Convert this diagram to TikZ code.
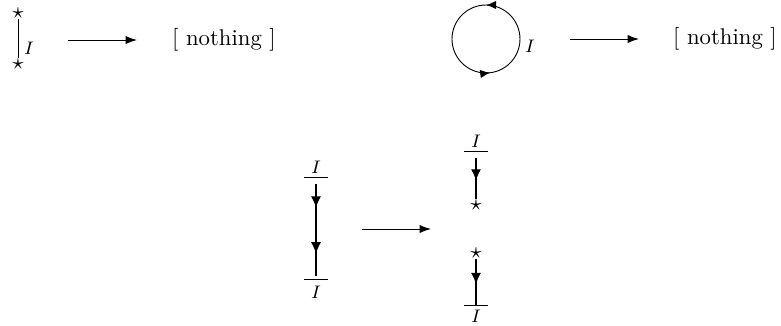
\documentclass[tikz,border=0pt]{standalone}
\usepackage{amsmath}
\usepackage{amssymb}
\usetikzlibrary{
    arrows.meta,
    decorations.markings
}

\tikzset{
    conn/.style={-{Latex[length=5pt,width=3.6pt]}},
    midarrow/.style={postaction={decorate},
        decoration={markings,
            mark=at position #1 with {\arrow{Latex[length=5pt,width=4.4pt]}}}},
    twoarrows/.style 2 args={postaction={decorate},
        decoration={markings,
            mark=at position #1 with {\arrow{Latex[length=5pt,width=4.4pt]}},
            mark=at position #2 with {\arrow{Latex[length=5pt,width=4.4pt]}}}},
    loopmarks/.style 2 args={postaction={decorate},
        decoration={markings,
            mark=at position #1 with {\arrow{Latex[length=4.4pt,width=3.6pt]}},
            mark=at position #2 with {\arrow{Latex[length=4.4pt,width=3.6pt]}}}},
    starnode/.style={inner sep=0pt},
    lab/.style={inner sep=1pt,font=\footnotesize}
}

\begin{document}
\begin{tikzpicture}[x=0.44pt,y=0.44pt]
\useasboundingbox (0,0) rectangle (781,325);

% Open line between two stars
\node[starnode] (ts) at (18,312) {$\star$};
\node[starnode] (bs) at (18,261) {$\star$};
\draw (ts) -- (bs);
\node[lab] (tI) at (29,277) {$I$};

\coordinate (r1a) at (68,285);
\coordinate (r1b) at (137,285);
\draw[conn] (r1a) -- (r1b);
\node (noth1) at (224,285) {[ nothing ]};

% Closed loop
\coordinate (loopc) at (486,286);
\draw[loopmarks={0.25}{0.77}] (loopc) circle (34);
\node[lab] (loopI) at (530,279) {$I$};

\coordinate (r2a) at (570,286);
\coordinate (r2b) at (639,286);
\draw[conn] (r2a) -- (r2b);
\node (noth2) at (725,286) {[ nothing ]};

% Line cut in two
\coordinate (lt) at (316,148);
\coordinate (lb) at (316,46);
\draw ([shift={(-12,0)}]lt) -- ([shift={(12,0)}]lt);
\draw ([shift={(-12,0)}]lb) -- ([shift={(12,0)}]lb);
\node[lab] (ltI) at (316,158) {$I$};
\node[lab] (lbI) at (316,33) {$I$};
\draw[line width=0.5pt,twoarrows={0.26}{0.76}] ([yshift=-3pt]lt) -- ([yshift=1.5pt]lb);

\coordinate (r3a) at (362,96);
\coordinate (r3b) at (431,96);
\draw[conn] (r3a) -- (r3b);

% upper half
\coordinate (rt) at (476,174);
\node[starnode] (rts) at (476,120) {$\star$};
\draw ([shift={(-12,0)}]rt) -- ([shift={(12,0)}]rt);
\node[lab] (rtI) at (476,184) {$I$};
\draw[line width=0.5pt,midarrow=0.55] ([yshift=-3pt]rt) -- (rts);

% lower half
\node[starnode] (rbs) at (476,72) {$\star$};
\coordinate (rb) at (476,20);
\draw ([shift={(-12,0)}]rb) -- ([shift={(12,0)}]rb);
\node[lab] (rbI) at (476,9) {$I$};
\draw[line width=0.5pt,midarrow=0.55] (rbs) -- (rb);

\end{tikzpicture}
\end{document}
